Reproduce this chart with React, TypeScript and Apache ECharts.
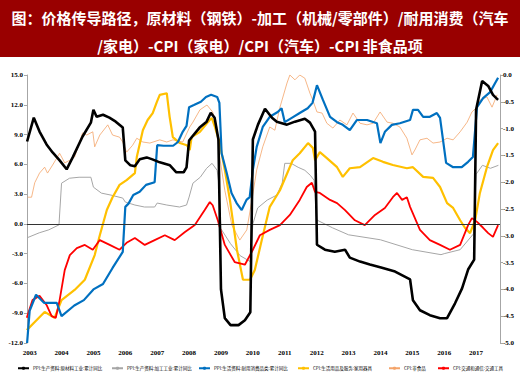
import React, { useEffect, useRef } from "react";
import * as echarts from "echarts";

const titleLines = [
  "图：价格传导路径，原材料（钢铁）-加工（机械/零部件）/耐用消费（汽车",
  "/家电）-CPI（家电）/CPI（汽车）-CPI 非食品项",
];
const years = [2003, 2004, 2005, 2006, 2007, 2008, 2009, 2010, 2011, 2012, 2013, 2014, 2015, 2016, 2017];
const leftTicks = [-12, -9, -6, -3, 0, 3, 6, 9, 12, 15];
const rightTicks = [-5, -4.5, -4, -3.5, -3, -2.5, -2, -1.5, -1, -0.5, 0];

const names = [
  "PPI:生产资料:原材料工业:累计同比",
  "PPI:生产资料:加工工业:累计同比",
  "PPI:生活资料:耐用消费品类:累计同比",
  "CPI:生活用品及服务:家用器具",
  "CPI:非食品",
  "CPI:交通和通信:交通工具",
];

// [year, value] — left axis
const ppiRaw = [
  [2002.92, 8.3], [2003.13, 10.7], [2003.31, 9.3], [2003.53, 8.0], [2003.72, 7.2], [2003.94, 6.4],
  [2004.16, 5.5], [2004.35, 6.7], [2004.66, 8.8], [2004.92, 10.2], [2005.0, 11.5], [2005.1, 10.8],
  [2005.3, 11.0], [2005.5, 10.7], [2005.7, 10.3], [2005.92, 9.7], [2006.0, 6.4], [2006.16, 5.9],
  [2006.3, 5.8], [2006.45, 6.5], [2006.67, 6.7], [2006.85, 6.5], [2007.08, 6.2], [2007.4, 5.9],
  [2007.6, 5.2], [2007.83, 5.2], [2007.92, 5.7], [2008.0, 8.4], [2008.1, 8.8], [2008.33, 9.7],
  [2008.55, 10.3], [2008.68, 11.2], [2008.8, 10.7], [2008.92, 8.5], [2009.0, -6.6], [2009.12, -9.5],
  [2009.3, -10.2], [2009.55, -10.2], [2009.75, -9.7], [2009.92, -8.9], [2010.0, 8.5], [2010.16, 10.0],
  [2010.38, 11.6], [2010.6, 10.7], [2010.75, 10.3], [2011.07, 10.0], [2011.32, 10.3], [2011.63, 10.6],
  [2011.79, 10.2], [2011.95, 9.3], [2012.01, -2.1], [2012.26, -2.6], [2012.57, -2.8], [2012.89, -2.6],
  [2013.04, -3.4], [2013.36, -3.8], [2013.67, -4.1], [2014.02, -4.4], [2014.46, -4.8], [2014.93, -5.6],
  [2015.02, -7.7], [2015.24, -8.7], [2015.55, -9.2], [2015.87, -9.5], [2016.09, -9.5], [2016.34, -8.0],
  [2016.56, -6.5], [2016.75, -4.6], [2016.94, -3.6], [2017.0, 11.5], [2017.19, 14.4], [2017.38, 13.9],
  [2017.53, 13.0], [2017.69, 12.5],
];
const ppiProc = [
  [2002.92, -1.4], [2003.3, -0.9], [2003.6, -0.6], [2003.92, -0.1], [2004.0, 4.1], [2004.25, 4.6],
  [2004.55, 4.7], [2004.92, 4.7], [2005.0, 3.7], [2005.25, 3.1], [2005.55, 2.9], [2005.92, 2.6],
  [2006.0, 2.2], [2006.3, 1.9], [2006.6, 1.7], [2006.92, 1.7], [2007.0, 2.1], [2007.3, 1.9],
  [2007.7, 1.7], [2007.92, 1.9], [2008.0, 2.7], [2008.12, 4.1], [2008.35, 4.7], [2008.55, 5.6],
  [2008.72, 6.1], [2008.88, 5.4], [2008.92, 4.4], [2009.0, -0.5], [2009.3, -2.0], [2009.6, -3.2],
  [2009.92, -3.8], [2010.0, 0.0], [2010.15, 1.6], [2010.45, 2.4], [2010.75, 2.9], [2010.92, 4.1],
  [2011.0, 6.1], [2011.2, 6.1], [2011.42, 5.7], [2011.63, 5.4], [2011.8, 4.9], [2011.92, 4.4],
  [2012.0, 0.4], [2012.5, -0.4], [2013.0, -1.1], [2014.0, -1.6], [2015.0, -2.6], [2015.9, -3.1],
  [2016.0, -3.0], [2016.5, -2.6], [2016.92, -1.0], [2017.0, 5.0], [2017.2, 5.9], [2017.45, 5.6],
  [2017.7, 5.9],
];
// right axis
const ppiDurable = [
  [2002.92, -5.0], [2003.0, -4.4], [2003.2, -4.1], [2003.45, -4.25], [2003.85, -4.25], [2004.0, -4.5],
  [2004.4, -4.3], [2004.7, -4.2], [2005.0, -4.0], [2005.3, -3.9], [2005.6, -3.6], [2005.92, -3.3],
  [2006.0, -2.46], [2006.1, -2.4], [2006.25, -2.24], [2006.45, -2.18], [2006.65, -2.05], [2006.92, -2.0],
  [2007.0, -1.31], [2007.2, -1.32], [2007.5, -1.32], [2007.65, -1.25], [2007.8, -1.06], [2007.92, -0.95],
  [2008.0, -0.6], [2008.15, -0.56], [2008.37, -0.5], [2008.53, -0.41], [2008.69, -0.37], [2008.88, -0.41],
  [2008.95, -0.52], [2009.02, -1.46], [2009.18, -1.83], [2009.33, -2.2], [2009.49, -2.39], [2009.65, -2.52],
  [2009.8, -2.33], [2009.9, -2.28], [2010.0, -1.77], [2010.12, -1.34], [2010.31, -0.97], [2010.53, -0.78],
  [2010.78, -0.69], [2010.9, -0.62], [2011.0, -0.88], [2011.22, -0.8], [2011.47, -0.71], [2011.72, -0.62],
  [2011.87, -0.52], [2012.01, -0.19], [2012.2, -0.47], [2012.42, -0.78], [2012.64, -0.88], [2012.82, -0.93],
  [2013.04, -1.03], [2013.26, -0.84], [2013.58, -0.84], [2013.89, -0.9], [2014.0, -1.27], [2014.14, -1.06],
  [2014.36, -0.93], [2014.61, -0.9], [2014.93, -0.84], [2015.02, -0.65], [2015.18, -0.65], [2015.34, -0.78],
  [2015.55, -0.78], [2015.77, -0.71], [2015.87, -0.8], [2016.06, -1.64], [2016.28, -1.72], [2016.55, -1.72],
  [2016.75, -1.62], [2016.9, -1.53], [2017.03, -0.6], [2017.22, -0.43], [2017.44, -0.32], [2017.69, -0.05],
];
const cpiAppliance = [
  [2002.91, -4.76], [2003.16, -4.61], [2003.47, -4.42], [2003.78, -4.53], [2004.0, -4.2], [2004.41, -4.01],
  [2004.73, -3.82], [2005.04, -3.36], [2005.2, -2.99], [2005.42, -2.52], [2005.6, -2.28], [2005.82, -2.05],
  [2006.04, -1.96], [2006.3, -1.83], [2006.36, -1.53], [2006.55, -1.03], [2006.7, -0.84], [2006.86, -0.71],
  [2006.99, -0.5], [2007.08, -0.37], [2007.3, -0.34], [2007.39, -0.78], [2007.49, -1.16], [2007.71, -1.27],
  [2007.93, -1.31], [2008.02, -1.4], [2008.08, -1.16], [2008.34, -1.06], [2008.56, -0.9], [2008.71, -0.8],
  [2008.81, -0.97], [2008.96, -1.27], [2009.12, -1.77], [2009.28, -2.33], [2009.5, -3.26], [2009.69, -3.82],
  [2009.91, -3.82], [2010.06, -3.64], [2010.28, -3.08], [2010.53, -2.46], [2010.85, -2.15], [2011.25, -1.59],
  [2011.47, -1.46], [2011.73, -1.27], [2011.88, -1.36], [2011.95, -1.59], [2012.1, -1.44], [2012.32, -1.55],
  [2012.64, -1.72], [2012.82, -1.9], [2013.04, -1.74], [2013.36, -1.72], [2013.77, -1.55], [2014.08, -1.62],
  [2014.39, -1.68], [2014.83, -1.74], [2015.02, -1.72], [2015.34, -1.9], [2015.65, -1.92], [2015.87, -2.09],
  [2016.09, -2.39], [2016.28, -2.48], [2016.5, -2.71], [2016.65, -2.85], [2016.81, -2.95], [2016.97, -2.71],
  [2017.12, -2.2], [2017.34, -1.72], [2017.53, -1.4], [2017.69, -1.27],
];
const cpiNonFood = [
  [2002.94, -2.28], [2003.06, -2.28], [2003.16, -2.01], [2003.31, -1.83], [2003.47, -1.72], [2003.56, -1.83],
  [2003.72, -1.68], [2003.94, -1.46], [2004.1, -1.64], [2004.26, -1.59], [2004.41, -1.53], [2004.66, -1.08],
  [2004.79, -1.12], [2004.98, -1.06], [2005.04, -1.34], [2005.2, -1.12], [2005.45, -0.93], [2005.6, -1.12],
  [2005.82, -1.16], [2005.92, -1.25], [2006.04, -1.44], [2006.23, -1.31], [2006.36, -1.18], [2006.55, -1.25],
  [2006.77, -1.27], [2007.08, -1.21], [2007.3, -1.25], [2007.49, -1.21], [2007.8, -1.25], [2008.02, -0.97],
  [2008.12, -0.88], [2008.34, -0.65], [2008.56, -0.56], [2008.74, -0.69], [2008.87, -0.97], [2008.96, -1.53],
  [2009.12, -2.15], [2009.34, -2.8], [2009.59, -3.08], [2009.81, -2.89], [2009.97, -2.33], [2010.12, -1.77],
  [2010.31, -1.34], [2010.53, -0.97], [2010.69, -1.03], [2010.85, -0.6], [2011.07, -0.15], [2011.16, 0.0],
  [2011.32, -0.09], [2011.47, 0.0], [2011.63, -0.06], [2011.79, -0.34], [2011.88, -0.47], [2012.01, -0.69],
  [2012.17, -0.71], [2012.32, -0.9], [2012.51, -0.99], [2012.73, -0.84], [2012.95, -0.93], [2013.14, -0.71],
  [2013.36, -0.9], [2013.58, -0.93], [2013.77, -0.9], [2013.99, -0.69], [2014.21, -0.88], [2014.39, -0.9],
  [2014.61, -0.97], [2014.83, -1.18], [2014.99, -1.49], [2015.08, -1.4], [2015.24, -1.21], [2015.46, -1.18],
  [2015.65, -1.27], [2015.87, -1.25], [2016.09, -1.18], [2016.28, -1.21], [2016.5, -1.06], [2016.72, -0.88],
  [2016.87, -0.69], [2017.03, -0.6], [2017.12, -0.47], [2017.34, -0.41], [2017.5, -0.6], [2017.66, -0.37],
];
const cpiVehicle = [
  [2002.91, -4.53], [2003.09, -4.2], [2003.31, -4.12], [2003.53, -4.29], [2003.69, -4.5], [2003.82, -4.53],
  [2003.94, -4.2], [2004.1, -3.64], [2004.26, -3.36], [2004.48, -3.23], [2004.73, -3.17], [2004.98, -3.26],
  [2005.2, -3.08], [2005.51, -3.17], [2005.82, -3.26], [2006.04, -3.13], [2006.3, -3.04], [2006.61, -3.17],
  [2006.92, -3.08], [2007.24, -2.99], [2007.55, -3.08], [2007.87, -2.93], [2008.18, -2.8], [2008.49, -2.52],
  [2008.65, -2.37], [2008.74, -2.43], [2008.9, -2.71], [2009.12, -3.17], [2009.43, -3.49], [2009.75, -3.54],
  [2010.0, -3.26], [2010.22, -2.99], [2010.53, -2.89], [2010.85, -2.8], [2011.16, -2.61], [2011.47, -2.33],
  [2011.69, -2.09], [2011.85, -2.01], [2011.95, -2.18], [2012.1, -2.2], [2012.42, -2.33], [2012.64, -2.39],
  [2012.89, -2.52], [2013.2, -2.71], [2013.51, -2.8], [2013.83, -2.61], [2014.14, -2.48], [2014.39, -2.28],
  [2014.52, -2.2], [2014.68, -2.33], [2014.83, -2.28], [2014.93, -2.46], [2015.24, -2.89], [2015.55, -3.08],
  [2015.87, -3.17], [2016.18, -3.26], [2016.5, -3.17], [2016.75, -2.8], [2016.87, -2.67], [2017.03, -2.74],
  [2017.22, -2.85], [2017.38, -2.95], [2017.53, -3.02], [2017.69, -2.8],
];

const series = [
  { data: ppiRaw, y: 0, color: "#000000", width: 2.6, legendLeft: 17 },
  { data: ppiProc, y: 0, color: "#A6A6A6", width: 1, legendLeft: 111 },
  { data: ppiDurable, y: 1, color: "#0070C0", width: 2.2, legendLeft: 198 },
  { data: cpiAppliance, y: 1, color: "#FFC000", width: 2.2, legendLeft: 297 },
  { data: cpiNonFood, y: 1, color: "#F4A46A", width: 0.8, legendLeft: 388 },
  { data: cpiVehicle, y: 1, color: "#FF0000", width: 1.8, legendLeft: 437 },
];

export default function App() {
  const ref = useRef<HTMLDivElement>(null);
  useEffect(() => {
    document.body.style.margin = "0";
    const chart = echarts.init(ref.current!, null, { renderer: "svg" });
    const axisFont = { fontSize: 7, fontFamily: "Liberation Serif", color: "#000", fontWeight: "bold" as const };
    chart.setOption({
      animation: false,
      backgroundColor: "#fff",
      graphic: [
        { type: "rect", shape: { x: 0, y: 0, width: 520, height: 57 }, style: { fill: "#990000" }, silent: true },
        {
          type: "text", x: 260, y: 17,
          style: { text: titleLines[0], fill: "#fff", font: 'bold 15px "Noto Sans CJK SC"', textAlign: "center", textVerticalAlign: "middle" },
        },
        {
          type: "text", x: 260, y: 45,
          style: { text: titleLines[1], fill: "#fff", font: 'bold 15px "Noto Sans CJK SC"', textAlign: "center", textVerticalAlign: "middle" },
        },
      ],
      grid: { left: 27, right: 20, top: 75, bottom: 41 },
      legend: series.map((s, i) => ({
        top: 366, left: s.legendLeft, itemWidth: 11, itemHeight: 4, itemGap: 4, padding: 0,
        textStyle: { fontSize: 4.5, fontFamily: "Noto Sans CJK SC", color: "#000", padding: [0, 0, 0, -1] },
        data: [names[i]],
      })),
      xAxis: {
        type: "value", min: 2002.917, max: 2017.75,
        axisLine: { show: false }, axisTick: { show: false }, splitLine: { show: false },
        axisLabel: { ...axisFont, customValues: years, formatter: (v: number) => String(Math.round(v)), margin: 6 },
      },
      yAxis: [
        {
          type: "value", min: leftTicks[0], max: leftTicks[leftTicks.length - 1], interval: 3,
          axisLine: { show: true, lineStyle: { color: "#A6A6A6" } },
          axisTick: { show: true, length: 3, lineStyle: { color: "#A6A6A6" } },
          splitLine: { show: false },
          axisLabel: { ...axisFont, margin: 4, formatter: (v: number) => v.toFixed(1) },
        },
        {
          type: "value", min: rightTicks[0], max: rightTicks[rightTicks.length - 1], interval: 0.5,
          position: "right",
          axisLine: { show: true, lineStyle: { color: "#A6A6A6" } },
          axisTick: { show: true, length: 3, lineStyle: { color: "#A6A6A6" } },
          splitLine: { show: false },
          axisLabel: { ...axisFont, margin: 3, formatter: (v: number) => v.toFixed(1) },
        },
      ],
      series: series.map((s, i) => ({
        name: names[i],
        type: "line",
        yAxisIndex: s.y,
        data: s.data,
        showSymbol: false,
        symbol: "none",
        color: s.color,
        lineStyle: { color: s.color, width: s.width },
        z: [5, 2, 4, 3, 1, 3][i],
        markLine: i === 0 ? {
          silent: true, symbol: "none", label: { show: false },
          lineStyle: { color: "#333", width: 1, type: "solid" },
          data: [{ yAxis: 0 }],
        } : undefined,
      })),
    });
    return () => chart.dispose();
  }, []);
  return <div ref={ref} style={{ width: 520, height: 384 }} />;
}
